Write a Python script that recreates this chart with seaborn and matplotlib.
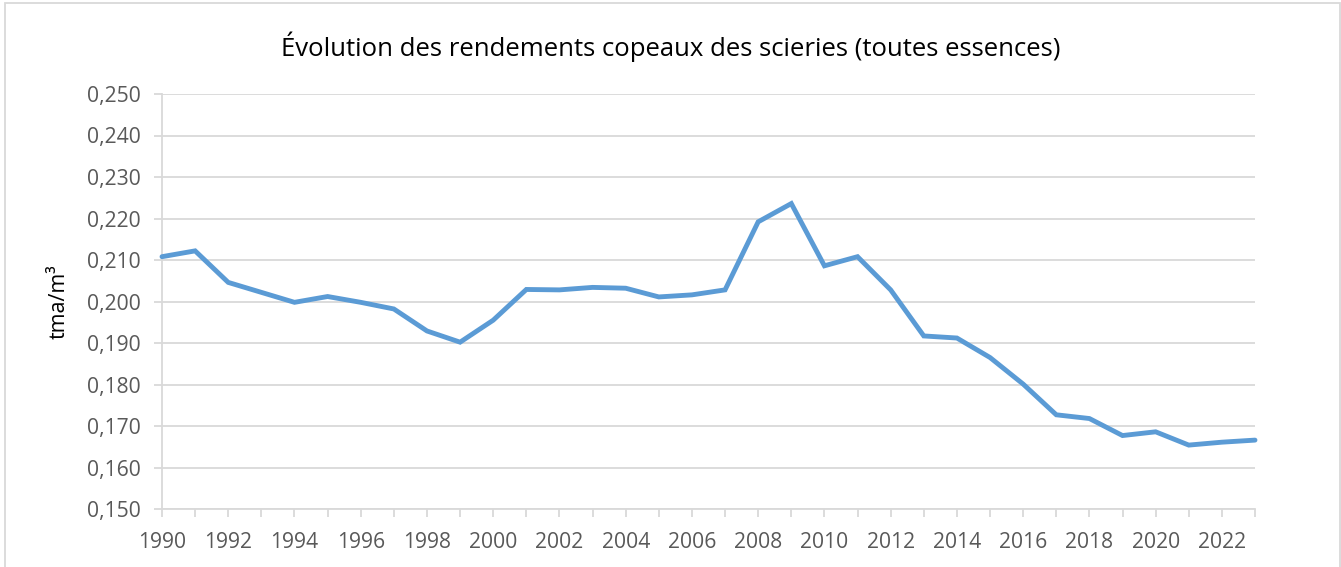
import matplotlib
matplotlib.use("Agg")
import matplotlib.pyplot as plt
from matplotlib.patches import Rectangle
from matplotlib.ticker import FuncFormatter, MultipleLocator
import numpy as np
import pandas as pd
import seaborn as sns

# Chip yield of sawmills, all species (t anhydrous per m3 of sawn timber)
years = list(range(1990, 2024))
rendement = [
    0.2108, 0.2122, 0.2046, 0.2022, 0.1998, 0.2012, 0.1998, 0.1982, 0.1929, 0.1902,
    0.1955, 0.2029, 0.2028, 0.2034, 0.2032, 0.2011, 0.2016, 0.2028, 0.2192, 0.2236,
    0.2086, 0.2108, 0.2028, 0.1917, 0.1912, 0.1865, 0.1801, 0.1727, 0.1718, 0.1677,
    0.1686, 0.1654, 0.1661, 0.1666,
]
title = "Évolution des rendements copeaux des scieries (toutes essences)"
ylabel = "tma/m³"

df = pd.DataFrame({"annee": years, "rendement": rendement})

sns.set_theme(style="white")
plt.rcParams["font.family"] = ["Open Sans", "DejaVu Sans"]

text_color = "#595959"
grid_color = "#D9D9D9"
line_color = "#5B9BD5"

fig = plt.figure(figsize=(13.41, 5.67), dpi=100)
ax = fig.add_axes([162 / 1341, 1 - 509 / 567, (1255 - 162) / 1341, (509 - 94) / 567])

sns.lineplot(data=df, x="annee", y="rendement", ax=ax, color=line_color,
             linewidth=3.5, solid_joinstyle="miter", solid_capstyle="round",
             clip_on=False, zorder=3)

ax.set_xlim(1990, 2023)
ax.set_ylim(0.150, 0.250)
ax.yaxis.set_major_locator(MultipleLocator(0.010))
ax.yaxis.set_major_formatter(FuncFormatter(lambda v, _: f"{v:.3f}".replace(".", ",")))
ax.xaxis.set_major_locator(MultipleLocator(2))
ax.xaxis.set_minor_locator(MultipleLocator(1))
ax.xaxis.set_major_formatter(FuncFormatter(lambda v, _: f"{int(round(v))}"))

ax.grid(axis="y", color=grid_color, linewidth=1.3, zorder=0)
ax.grid(axis="x", visible=False)
for side in ("top", "right"):
    ax.spines[side].set_visible(False)
for side in ("left", "bottom"):
    ax.spines[side].set_color(grid_color)
    ax.spines[side].set_linewidth(1.3)

ax.tick_params(axis="y", which="major", direction="out", length=5.5, width=1.3,
               color=grid_color, labelcolor=text_color, labelsize=15.2, pad=10, left=True)
ax.tick_params(axis="x", which="both", direction="out", length=5.5, width=1.3,
               color=grid_color, labelcolor=text_color, labelsize=15.2, pad=11, bottom=True)

ax.set_xlabel("")
ax.set_ylabel(ylabel, color="black", fontsize=15.5, labelpad=12)

fig.text(0.5, 1 - 47 / 567, title, ha="center", va="center", fontsize=18.5, color="black")

# light chart frame
fig.patches.append(Rectangle((5 / 1341, -0.05), 1335 / 1341, 1.05 - 3 / 567,
                             transform=fig.transFigure, fill=False,
                             edgecolor=grid_color, linewidth=1.3))

fig.savefig("out.png", dpi=100, facecolor="white")
